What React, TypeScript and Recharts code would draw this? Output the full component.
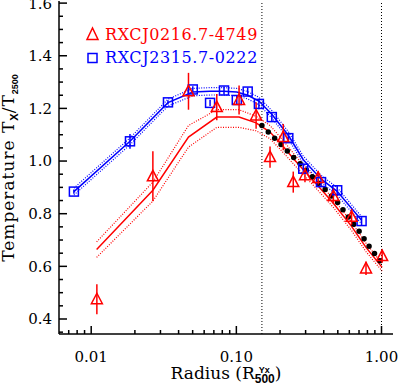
import { ComposedChart, Line, Scatter, ErrorBar, XAxis, YAxis, ReferenceLine } from 'recharts';

const RED = '#ff0000';
const BLUE = '#0000ff';
const FONT = 'DejaVu Serif';

// axis ticks
const xTicks = [0.007, 0.008, 0.009, 0.01, 0.02, 0.03, 0.04, 0.05, 0.06, 0.07, 0.08, 0.09, 0.1, 0.2, 0.3, 0.4, 0.5, 0.6, 0.7, 0.8, 0.9, 1];
const xMajor = [0.01, 0.1, 1];
const yTicks = [0.35, 0.4, 0.45, 0.5, 0.55, 0.6, 0.65, 0.7, 0.75, 0.8, 0.85, 0.9, 0.95, 1.0, 1.05, 1.1, 1.15, 1.2, 1.25, 1.3, 1.35, 1.4, 1.45, 1.5, 1.55, 1.6];
const refRadii = [0.15, 1.0];

// RXCJ0216.7-4749 measurements
const redR = [0.01094, 0.0266, 0.0468, 0.0733, 0.1044, 0.1368, 0.1706, 0.2105, 0.2466, 0.297, 0.366, 0.466, 0.622, 0.782, 1.01];
const redT = [0.475, 0.942, 1.265, 1.205, 1.232, 1.173, 1.015, 1.091, 0.92, 0.946, 0.936, 0.867, 0.788, 0.592, 0.639];
const redErr = [0.057, 0.095, 0.07, 0.05, 0.055, 0.05, 0.04, 0.05, 0.04, 0.027, 0.025, 0.03, 0.03, 0.025, 0.025];

// RXCJ0216.7-4749 model
const redModelR = [0.0109, 0.0266, 0.0468, 0.0733, 0.1044, 0.1368, 0.1706, 0.2105, 0.2466, 0.297, 0.366, 0.466, 0.622, 0.782, 1.01];
const redModelT = [0.664, 0.889, 1.091, 1.167, 1.167, 1.145, 1.11, 1.055, 1.01, 0.96, 0.905, 0.84, 0.752, 0.672, 0.596];
const redModelHi = [0.693, 0.92, 1.135, 1.195, 1.195, 1.17, 1.135, 1.078, 1.03, 0.978, 0.922, 0.856, 0.768, 0.688, 0.61];
const redModelLo = [0.634, 0.848, 1.053, 1.128, 1.128, 1.115, 1.085, 1.032, 0.99, 0.942, 0.888, 0.824, 0.736, 0.656, 0.582];

// RXCJ2315.7-0222 measurements
const blueR = [0.0076, 0.0185, 0.0338, 0.0501, 0.0659, 0.0822, 0.1007, 0.1197, 0.143, 0.1755, 0.228, 0.289, 0.383, 0.495, 0.729];
const blueT = [0.884, 1.075, 1.223, 1.272, 1.221, 1.268, 1.232, 1.264, 1.217, 1.167, 1.087, 0.971, 0.92, 0.889, 0.772];
const blueErr = [0.008, 0.028, 0.008, 0.012, 0.012, 0.015, 0.018, 0.015, 0.02, 0.015, 0.015, 0.015, 0.015, 0.02, 0.015];

// RXCJ2315.7-0222 model
const blueModelT = [0.884, 1.075, 1.222, 1.262, 1.265, 1.265, 1.262, 1.25, 1.228, 1.178, 1.098, 1.005, 0.932, 0.885, 0.775];
const blueModelHi = [0.897, 1.088, 1.235, 1.276, 1.279, 1.279, 1.276, 1.264, 1.242, 1.192, 1.112, 1.019, 0.946, 0.899, 0.789];
const blueModelLo = [0.871, 1.062, 1.209, 1.248, 1.251, 1.251, 1.248, 1.236, 1.214, 1.164, 1.084, 0.991, 0.918, 0.871, 0.761];

// universal profile (black dots)
const univR = [0.15, 0.17, 0.2054, 0.228, 0.282, 0.343, 0.414, 0.495, 0.59, 0.699, 0.818, 0.959, 1.04];
const univT = [1.135, 1.105, 1.06, 1.034, 0.984, 0.933, 0.889, 0.845, 0.788, 0.734, 0.677, 0.627, 0.598];

const redPts = redR.map((x, i) => ({ x, y: redT[i], err: redErr[i] }));
const bluePts = blueR.map((x, i) => ({ x, y: blueT[i], err: blueErr[i] }));
const redModel = redModelR.map((x, i) => ({ x, y: redModelT[i], lo: redModelLo[i], hi: redModelHi[i] }));
const blueModel = blueR.map((x, i) => ({ x, y: blueModelT[i], lo: blueModelLo[i], hi: blueModelHi[i] }));
const univ = univR.map((x, i) => ({ x, y: univT[i] }));

function FrameTick(props: any) {
  const { x, y, payload, side } = props;
  const v = Number(payload.value);
  const horiz = side === 'bottom' || side === 'top';
  const major = horiz
    ? xMajor.some((m) => Math.abs(m - v) < 1e-9)
    : Math.abs(v * 5 - Math.round(v * 5)) < 1e-6;
  const len = major ? 8 : 4;
  let x2 = x;
  let y2 = y;
  if (side === 'bottom') y2 = y - len;
  if (side === 'top') y2 = y + len;
  if (side === 'left') x2 = x + len;
  if (side === 'right') x2 = x - len;
  return (
    <g>
      <line x1={x} y1={y} x2={x2} y2={y2} stroke="#000" strokeWidth={1.5} />
      {side === 'bottom' && major && (
        <text x={x} y={y + 28} textAnchor="middle" fontFamily={FONT} fontSize={15} fill="#000">
          {v.toFixed(2)}
        </text>
      )}
      {side === 'left' && major && (
        <text x={x - 7} y={y} dy="0.36em" textAnchor="end" fontFamily={FONT} fontSize={15} fill="#000">
          {v.toFixed(1)}
        </text>
      )}
    </g>
  );
}

function XTitle() {
  return (
    <text x={226} y={379} textAnchor="middle" fontFamily={FONT} fontSize={17} fill="#000">
      Radius (R
      <tspan fontFamily="Liberation Sans" fontWeight="bold" fontSize={12} dy={3.5}>500</tspan>
      <tspan fontFamily="Liberation Sans" fontWeight="bold" fontSize={9} dx={-16} dy={-10}>Yx</tspan>
      <tspan dx={5} dy={6.5}>)</tspan>
    </text>
  );
}

function YTitle() {
  return (
    <text x={14} y={168} transform="rotate(-90 14 168)" textAnchor="middle" fontFamily={FONT} fontSize={17} letterSpacing={1} fill="#000">
      Temperature T
      <tspan fontFamily="Liberation Sans" fontWeight="bold" fontSize={11} dy={3.5} letterSpacing={0}>X</tspan>
      <tspan dy={-3.5}>/T</tspan>
      <tspan fontFamily="Liberation Sans" fontWeight="bold" fontSize={9} dy={3.5} letterSpacing={0}>2500</tspan>
    </text>
  );
}

function Triangle(p: any) {
  const { cx, cy } = p;
  return <polygon points={`${cx},${cy - 6} ${cx - 5.5},${cy + 4.5} ${cx + 5.5},${cy + 4.5}`} fill="none" stroke={RED} strokeWidth={1.5} />;
}

function Square(p: any) {
  const { cx, cy } = p;
  return <rect x={cx - 4.5} y={cy - 4.5} width={9} height={9} fill="none" stroke={BLUE} strokeWidth={1.5} />;
}

export default function App() {
  return (
    <div style={{ position: 'relative', width: 399, height: 385 }}>
      <style>{'body{margin:0}'}</style>
      <ComposedChart width={399} height={385} margin={{ top: 1, right: 6, bottom: 0, left: 0 }}>
        <XAxis
          xAxisId="b"
          dataKey="x"
          type="number"
          scale="log"
          domain={[0.006, 1.2]}
          allowDataOverflow
          ticks={xTicks}
          interval={0}
          height={51}
          tickSize={0}
          tickMargin={0}
          tickLine={false}
          axisLine={{ stroke: '#000', strokeWidth: 1.5 }}
          tick={<FrameTick side="bottom" />}
          label={<XTitle />}
        />
        <XAxis
          xAxisId="t"
          orientation="top"
          dataKey="x"
          type="number"
          scale="log"
          domain={[0.006, 1.2]}
          allowDataOverflow
          ticks={xTicks}
          interval={0}
          height={0}
          tickSize={0}
          tickMargin={0}
          tickLine={false}
          axisLine={{ stroke: '#000', strokeWidth: 1.5 }}
          tick={<FrameTick side="top" />}
        />
        <YAxis
          yAxisId="l"
          type="number"
          domain={[0.343, 1.608]}
          allowDataOverflow
          ticks={yTicks}
          interval={0}
          width={59}
          tickSize={0}
          tickMargin={0}
          tickLine={false}
          axisLine={{ stroke: '#000', strokeWidth: 1.5 }}
          tick={<FrameTick side="left" />}
          label={<YTitle />}
        />
        <YAxis
          yAxisId="r"
          orientation="right"
          type="number"
          domain={[0.343, 1.608]}
          allowDataOverflow
          ticks={yTicks}
          interval={0}
          width={0}
          tickSize={0}
          tickMargin={0}
          tickLine={false}
          axisLine={{ stroke: '#000', strokeWidth: 1.5 }}
          tick={<FrameTick side="right" />}
        />
        {refRadii.map((r) => (
          <ReferenceLine key={r} x={r} xAxisId="b" yAxisId="l" stroke="#000" strokeWidth={1} strokeDasharray="1 2" />
        ))}
        <Line xAxisId="b" yAxisId="l" data={blueModel} dataKey="hi" stroke={BLUE} strokeWidth={1.2} strokeDasharray="1 1.5" dot={false} isAnimationActive={false} />
        <Line xAxisId="b" yAxisId="l" data={blueModel} dataKey="lo" stroke={BLUE} strokeWidth={1.2} strokeDasharray="1 1.5" dot={false} isAnimationActive={false} />
        <Line xAxisId="b" yAxisId="l" data={blueModel} dataKey="y" stroke={BLUE} strokeWidth={1.5} dot={false} isAnimationActive={false} />
        <Line xAxisId="b" yAxisId="l" data={redModel} dataKey="hi" stroke={RED} strokeWidth={1.2} strokeDasharray="1 1.5" dot={false} isAnimationActive={false} />
        <Line xAxisId="b" yAxisId="l" data={redModel} dataKey="lo" stroke={RED} strokeWidth={1.2} strokeDasharray="1 1.5" dot={false} isAnimationActive={false} />
        <Line xAxisId="b" yAxisId="l" data={redModel} dataKey="y" stroke={RED} strokeWidth={1.5} dot={false} isAnimationActive={false} />
        <Line xAxisId="b" yAxisId="l" data={univ} dataKey="y" stroke="#000" strokeWidth={5.5} strokeDasharray="0 9" strokeLinecap="round" dot={false} isAnimationActive={false} />
        <Scatter xAxisId="b" yAxisId="l" data={bluePts} dataKey="y" shape={Square} isAnimationActive={false}>
          <ErrorBar dataKey="err" direction="y" width={0} stroke={BLUE} strokeWidth={1.5} />
        </Scatter>
        <Scatter xAxisId="b" yAxisId="l" data={redPts} dataKey="y" shape={Triangle} isAnimationActive={false}>
          <ErrorBar dataKey="err" direction="y" width={0} stroke={RED} strokeWidth={1.5} />
        </Scatter>
      </ComposedChart>
      <svg width={399} height={385} style={{ position: 'absolute', left: 0, top: 0, pointerEvents: 'none' }}>
        <polygon points="92.5,28 87,39.5 98,39.5" fill="none" stroke={RED} strokeWidth={1.5} />
        <text x={105} y={40} fontFamily={FONT} fontSize={16} letterSpacing={0.6} fill={RED}>RXCJ0216.7-4749</text>
        <rect x={88} y={53.5} width={9} height={9} fill="none" stroke={BLUE} strokeWidth={1.5} />
        <text x={105} y={63} fontFamily={FONT} fontSize={16} letterSpacing={0.6} fill={BLUE}>RXCJ2315.7-0222</text>
      </svg>
    </div>
  );
}
